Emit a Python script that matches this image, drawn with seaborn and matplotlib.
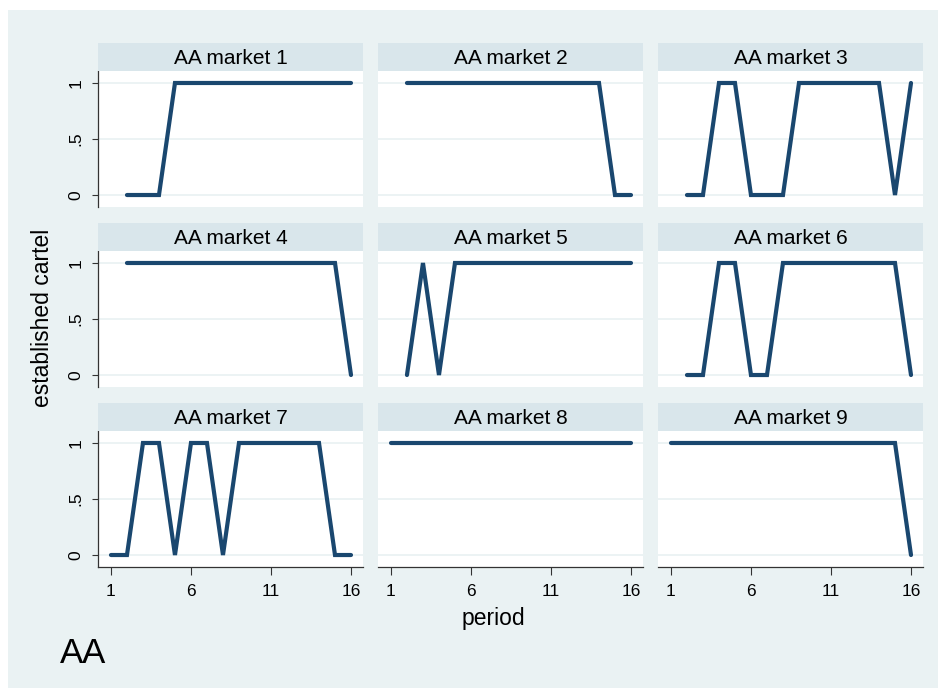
import numpy as np
import pandas as pd
import matplotlib
matplotlib.use("Agg")
import matplotlib.pyplot as plt
from matplotlib.patches import Rectangle
import seaborn as sns

# ---- data: established cartel (0/1) per period, NaN = not observed
PERIODS = list(range(1, 17))
NA = np.nan
MARKET_1 = [NA, 0, 0, 0, 1, 1, 1, 1, 1, 1, 1, 1, 1, 1, 1, 1]
MARKET_2 = [NA, 1, 1, 1, 1, 1, 1, 1, 1, 1, 1, 1, 1, 1, 0, 0]
MARKET_3 = [NA, 0, 0, 1, 1, 0, 0, 0, 1, 1, 1, 1, 1, 1, 0, 1]
MARKET_4 = [NA, 1, 1, 1, 1, 1, 1, 1, 1, 1, 1, 1, 1, 1, 1, 0]
MARKET_5 = [NA, 0, 1, 0, 1, 1, 1, 1, 1, 1, 1, 1, 1, 1, 1, 1]
MARKET_6 = [NA, 0, 0, 1, 1, 0, 0, 1, 1, 1, 1, 1, 1, 1, 1, 0]
MARKET_7 = [0, 0, 1, 1, 0, 1, 1, 0, 1, 1, 1, 1, 1, 1, 0, 0]
MARKET_8 = [1, 1, 1, 1, 1, 1, 1, 1, 1, 1, 1, 1, 1, 1, 1, 1]
MARKET_9 = [1, 1, 1, 1, 1, 1, 1, 1, 1, 1, 1, 1, 1, 1, 1, 0]
MARKETS = [MARKET_1, MARKET_2, MARKET_3, MARKET_4, MARKET_5,
           MARKET_6, MARKET_7, MARKET_8, MARKET_9]
MARKET_NAMES = [f"AA market {i}" for i in range(1, 10)]
X_TICKS = [1, 6, 11, 16]
Y_TICKS = [0, 0.5, 1]
Y_TICKLABELS = ["0", ".5", "1"]

# Stata s2color look
BG = "#EAF2F3"
STRIP = "#D9E6EB"
GRID = "#EAF2F3"
LINE = "#1A476F"
AXIS = "#333333"

W, H = 944, 693

df = pd.concat(
    [pd.DataFrame({"market": name, "period": PERIODS, "cartel": vals})
     for name, vals in zip(MARKET_NAMES, MARKETS)],
    ignore_index=True,
).dropna()

sns.set_style("white")
plt.rcParams["font.family"] = ["Liberation Sans", "DejaVu Sans"]
plt.rcParams["text.color"] = "black"
plt.rcParams["xtick.color"] = "black"
plt.rcParams["ytick.color"] = "black"

fig = plt.figure(figsize=(W / 100, H / 100), dpi=100)
fig.patch.set_facecolor("white")
fig.patches.append(Rectangle((8 / W, 1 - 688 / H), 930 / W, 678 / H,
                             transform=fig.transFigure, facecolor=BG,
                             edgecolor="none", zorder=-10))

COL_LEFT = [98, 378, 658]
ROW_TOP = [43, 223, 403]
PANEL_W, STRIP_H, PLOT_H = 265, 28, 136


def fig_box(x, y_top, w, h):
    return [x / W, 1 - (y_top + h) / H, w / W, h / H]


for k, name in enumerate(MARKET_NAMES):
    r, c = divmod(k, 3)
    x0, y0 = COL_LEFT[c], ROW_TOP[r]

    # strip header
    fig.patches.append(Rectangle((x0 / W, 1 - (y0 + STRIP_H) / H),
                                 PANEL_W / W, STRIP_H / H,
                                 transform=fig.transFigure, facecolor=STRIP,
                                 edgecolor="none", zorder=1))
    fig.text((x0 + PANEL_W / 2) / W, 1 - (y0 + STRIP_H / 2 + 1) / H, name,
             ha="center", va="center", fontsize=15, color="black")

    ax = fig.add_axes(fig_box(x0, y0 + STRIP_H, PANEL_W, PLOT_H))
    ax.set_facecolor("white")
    sub = df[df.market == name]
    sns.lineplot(data=sub, x="period", y="cartel", ax=ax, color=LINE,
                 linewidth=3.0, errorbar=None, legend=False,
                 solid_capstyle="round", solid_joinstyle="miter")
    for yv in Y_TICKS:
        ax.axhline(yv, color=GRID, linewidth=1.3, zorder=0)

    ax.set_xlim(0.19, 16.75)
    ax.set_ylim(-0.107, 1.107)
    ax.set_xticks(X_TICKS)
    ax.set_yticks(Y_TICKS)
    ax.set_xlabel("")
    ax.set_ylabel("")
    for s in ax.spines.values():
        s.set_visible(False)

    if c == 0:
        ax.spines["left"].set_visible(True)
        ax.spines["left"].set_color(AXIS)
        ax.spines["left"].set_linewidth(0.9)
        ax.set_yticklabels(Y_TICKLABELS, rotation=90, va="center")
        ax.tick_params(axis="y", left=True, length=4.5, width=0.8,
                       color=AXIS, pad=6, labelsize=12.5)
    else:
        ax.tick_params(axis="y", left=False, labelleft=False)

    if r == 2:
        ax.spines["bottom"].set_visible(True)
        ax.spines["bottom"].set_color(AXIS)
        ax.spines["bottom"].set_linewidth(0.9)
        ax.set_xticklabels([str(t) for t in X_TICKS])
        ax.tick_params(axis="x", bottom=True, length=6, width=0.8,
                       color=AXIS, pad=6, labelsize=12.5)
    else:
        ax.tick_params(axis="x", bottom=False, labelbottom=False)

fig.text(493 / W, 1 - 618 / H, "period", ha="center", va="center",
         fontsize=16.5)
fig.text(43 / W, 1 - 318 / H, "established cartel", ha="center",
         va="center", rotation=90, fontsize=16.5)
fig.text(60 / W, 1 - 663 / H, "AA", ha="left", va="baseline", fontsize=25)

fig.savefig("out.png", dpi=100, facecolor=fig.get_facecolor())
